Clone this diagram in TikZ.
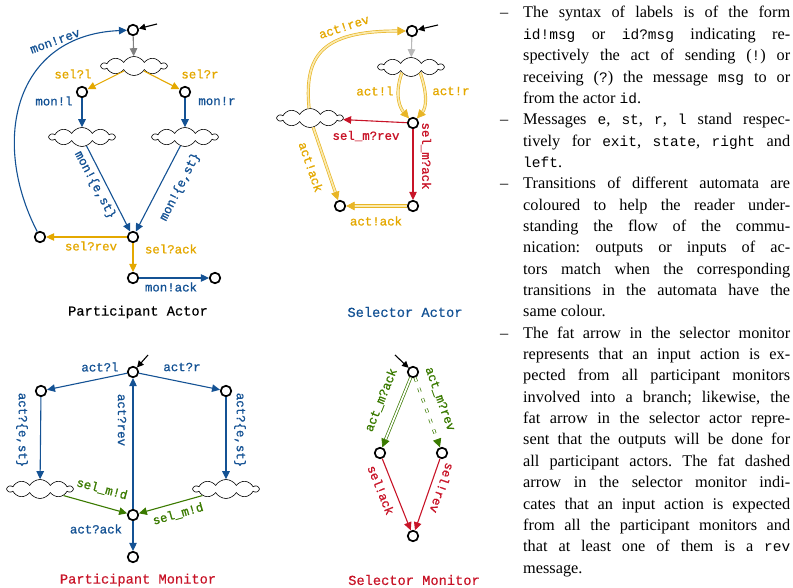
\documentclass[tikz,border=0pt]{standalone}
\usepackage{fontspec}
\setmainfont{Liberation Serif}
\newfontfamily\monofam{Liberation Mono}
\newfontfamily\labfam{Liberation Mono}[FakeBold=1]
\newfontfamily\ttlfam{Liberation Mono}[FakeBold=0.5]
\usetikzlibrary{arrows.meta,shapes.symbols}

\definecolor{cblue}{RGB}{20,82,148}
\definecolor{corange}{RGB}{228,168,0}
\definecolor{cpale}{RGB}{250,234,175}
\definecolor{cred}{RGB}{200,20,40}
\definecolor{cgreen}{RGB}{58,122,0}

\newcommand\tc[1]{{\monofam\fontsize{14.5}{14}\selectfont #1}}
\newcommand\Jl[1]{\hspace*{26pt}\makebox[267pt][s]{#1}\par}
\newcommand\Il[1]{\makebox[26pt][l]{\hspace*{3pt}--}\makebox[267pt][s]{#1}\par}
\newcommand\Ll[1]{\hspace*{26pt}#1\par}

\tikzset{
  stnode/.style={circle,draw=black,line width=1.7pt,minimum size=10.5pt,inner sep=0pt,fill=white},
  cloudnode/.style={cloud,draw=black,line width=0.6pt,cloud puffs=10,cloud puff arc=120,
    aspect=3.5,minimum width=65pt,minimum height=19pt,inner sep=0pt,fill=white},
  arr/.style={-{Triangle[length=8pt,width=7.5pt]},line width=1.1pt},
  bl/.style={arr,draw=cblue},
  og/.style={arr,draw=corange},
  rd/.style={arr,draw=cred},
  gn/.style={arr,draw=cgreen},
  dbl/.style={-{Triangle[length=8.5pt,width=8.5pt]},line width=0.7pt,double distance=1.7pt},
  dblo/.style={dbl,draw=corange!85,double=cpale},
  dblg/.style={dbl,draw=cgreen,double=white},
  init/.style={-{Triangle[length=6.5pt,width=6.5pt]},line width=1.1pt,draw=black},
  lbl/.style={font=\labfam\fontsize{12.4}{13}\selectfont,inner sep=0pt},
  ttl/.style={font=\ttlfam\fontsize{13.7}{14}\selectfont,inner sep=0pt},
}

\begin{document}
\begin{tikzpicture}[x=1pt,y=-1pt]
\useasboundingbox (0,0) rectangle (793,588);

% ---------------- Participant Actor ----------------
\node[stnode] (pa0) at (133,30) {};
\node[cloudnode] (pac) at (134,66) {};
\node[stnode] (pal) at (82,92) {};
\node[stnode] (par) at (185,92) {};
\node[cloudnode] (pacl) at (82,137) {};
\node[cloudnode] (pacr) at (185,137) {};
\node[stnode] (pam) at (133,237) {};
\node[stnode] (pan) at (40,237) {};
\node[stnode] (pak) at (133,278) {};
\node[stnode] (pae) at (215,278) {};
\coordinate (pain) at (157,24);

\draw[init] (pain) -- (pa0);
\draw[arr,draw=gray] (pa0) -- (pac);
\draw[og] (pac) -- (pal);
\draw[og] (pac) -- (par);
\draw[bl] (pal) -- (pacl);
\draw[bl] (par) -- (pacr);
\draw[bl] (pacl) -- (pam);
\draw[bl] (pacr) -- (pam);
\draw[og] (pam) -- (pan);
\draw[og] (pam) -- (pak);
\draw[bl] (pak) -- (pae);
\draw[bl] (pan) .. controls (-10,140) and (15,35) .. (pa0);

\node[lbl,text=corange] at (73,74) {sel?l};
\node[lbl,text=corange] at (200,74) {sel?r};
\node[lbl,text=cblue] at (54,101) {mon!l};
\node[lbl,text=cblue] at (217,101) {mon!r};
\node[lbl,text=cblue,rotate=20] at (55,41) {mon!rev};
\node[lbl,text=cblue,rotate=-62] at (95,185) {mon!\{e,st\}};
\node[lbl,text=cblue,rotate=63] at (180,187) {mon!\{e,st\}};
\node[lbl,text=corange] at (91,246) {sel?rev};
\node[lbl,text=corange] at (171,249) {sel?ack};
\node[lbl,text=cblue] at (171,287) {mon!ack};
\node[ttl,text=black] at (138,312) {Participant Actor};

% ---------------- Selector Actor ----------------
\node[stnode] (sa0) at (412,31) {};
\node[cloudnode] (sac) at (411,67) {};
\node[stnode] (saa) at (413,123) {};
\node[cloudnode] (sacl) at (310,118) {};
\node[stnode] (sab) at (413,206) {};
\node[stnode] (sabl) at (340,206) {};
\coordinate (sain) at (438,25);

\draw[init] (sain) -- (sa0);
\draw[arr,draw=gray!55] (sa0) -- (sac);
\draw[dblo] (sac.-148) .. controls (394,95) and (400,108) .. (saa);
\draw[dblo] (sac.-32) .. controls (428,95) and (426,108) .. (saa);
\draw[rd] (saa) -- (sacl);
\draw[rd] (saa) -- (sab);
\draw[dblo,double distance=2.4pt] (sab) -- (sabl);
\draw[dblo] (sacl) -- (sabl);
\draw[dblo] (sacl) .. controls (304,55) and (322,31) .. (sa0);

\node[lbl,text=corange,rotate=18] at (344,27) {act!rev};
\node[lbl,text=corange] at (375,91) {act!l};
\node[lbl,text=corange] at (451,91) {act!r};
\node[lbl,text=cred] at (366,136) {sel\_m?rev};
\node[lbl,text=cred,rotate=-90] at (426,156) {sel\_m?ack};
\node[lbl,text=corange,rotate=-71] at (311,167) {act!ack};
\node[lbl,text=corange] at (376,221) {act!ack};
\node[ttl,text=cblue] at (405,312) {Selector Actor};

% ---------------- Participant Monitor ----------------
\node[stnode] (pm0) at (133,372) {};
\node[stnode] (pml) at (41,391) {};
\node[stnode] (pmr) at (226,391) {};
\node[cloudnode] (pmcl) at (40,489) {};
\node[cloudnode] (pmcr) at (226,489) {};
\node[stnode] (pmm) at (133,515) {};
\node[stnode] (pme) at (133,557) {};
\coordinate (pmin) at (148,355);

\draw[init] (pmin) -- (pm0);
\draw[bl] (pm0) -- (pml);
\draw[bl] (pm0) -- (pmr);
\draw[bl] (pml) -- (pmcl);
\draw[bl] (pmr) -- (pmcr);
\draw[gn] (pmcl) -- (pmm);
\draw[gn] (pmcr) -- (pmm);
\draw[bl] (pmm) -- (pm0);
\draw[bl] (pmm) -- (pme);

\node[lbl,text=cblue] at (100,367) {act?l};
\node[lbl,text=cblue] at (182,367) {act?r};
\node[lbl,text=cblue,rotate=-90] at (22,430) {act?\{e,st\}};
\node[lbl,text=cblue,rotate=-90] at (240,430) {act?\{e,st\}};
\node[lbl,text=cblue,rotate=-90] at (122,420) {act?rev};
\node[lbl,text=cgreen,rotate=-15] at (102,489) {sel\_m!d};
\node[lbl,text=cgreen,rotate=16] at (178,514) {sel\_m!d};
\node[lbl,text=cblue] at (96,529) {act?ack};
\node[ttl,text=cred] at (138,580) {Participant Monitor};

% ---------------- Selector Monitor ----------------
\node[stnode] (sm0) at (413,372) {};
\node[stnode] (sma) at (380,453) {};
\node[stnode] (smb) at (442,453) {};
\node[stnode] (smf) at (413,536) {};
\coordinate (smin) at (395,355);

\draw[init] (smin) -- (sm0);
\draw[dblg] (sm0) -- (sma);
\draw[dblg,dash pattern=on 4pt off 7pt] (sm0) -- (smb);
\draw[rd] (sma) -- (smf);
\draw[rd] (smb) -- (smf);

\node[lbl,text=cgreen,rotate=68] at (381,400) {act\_m?ack};
\node[lbl,text=cgreen,rotate=-70] at (440,399) {act\_m?rev};
\node[lbl,text=cred,rotate=-68] at (381,490) {sel!ack};
\node[lbl,text=cred,rotate=-109] at (442,488) {sel!rev};
\node[ttl,text=cred] at (414,580) {Selector Monitor};

% ---------------- Notes ----------------
\node[anchor=base west,inner sep=0pt] (notes) at (497,18) {%
\begin{minipage}[t]{296pt}
\fontsize{16.3}{21.35}\selectfont\frenchspacing
\setlength\parindent{0pt}\setlength\parskip{0pt}%
\Il{The syntax of labels is of the form}
\Jl{\tc{id!msg} or \tc{id?msg} indicating re-}
\Jl{spectively the act of sending (\tc{!}) or}
\Jl{receiving (\tc{?}) the message \tc{msg} to or}
\Ll{from the actor \tc{id}.}
\Il{Messages \tc{e}, \tc{st}, \tc{r}, \tc{l} stand respec-}
\Jl{tively for \tc{exit}, \tc{state}, \tc{right} and}
\Ll{\tc{left}.}
\Il{Transitions of different automata are}
\Jl{coloured to help the reader under-}
\Jl{standing the flow of the commu-}
\Jl{nication: outputs or inputs of ac-}
\Jl{tors match when the corresponding}
\Jl{transitions in the automata have the}
\Ll{same colour.}
\Il{The fat arrow in the selector monitor}
\Jl{represents that an input action is ex-}
\Jl{pected from all participant monitors}
\Jl{involved into a branch; likewise, the}
\Jl{fat arrow in the selector actor repre-}
\Jl{sent that the outputs will be done for}
\Jl{all participant actors. The fat dashed}
\Jl{arrow in the selector monitor indi-}
\Jl{cates that an input action is expected}
\Jl{from all the participant monitors and}
\Jl{that at least one of them is a \tc{rev}}
\Ll{message.}
\end{minipage}};
\end{tikzpicture}
\end{document}
